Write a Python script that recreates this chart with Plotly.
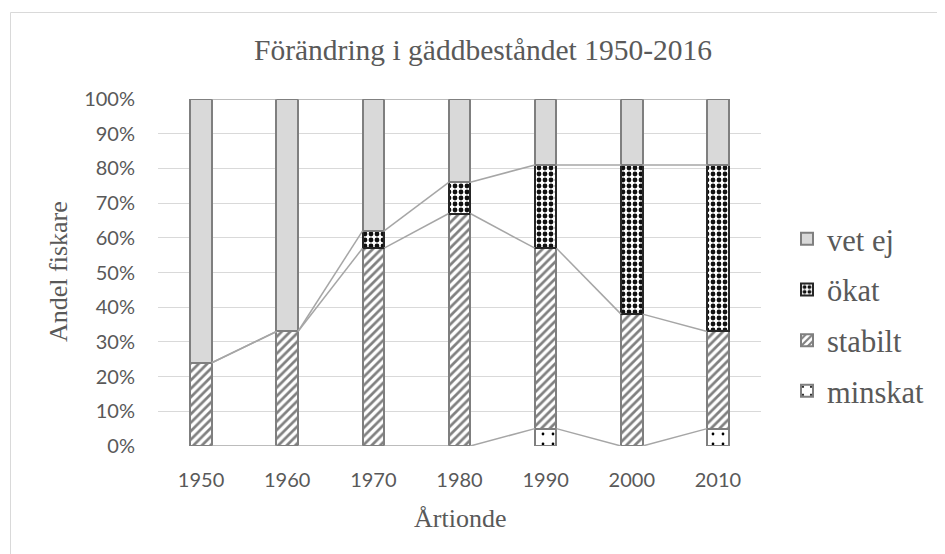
import plotly.graph_objects as go

# ---- data ----
decades = ["1950", "1960", "1970", "1980", "1990", "2000", "2010"]
minskat = [0.00, 0.00, 0.00, 0.00, 0.05, 0.00, 0.05]
stabilt = [0.24, 0.33, 0.57, 0.67, 0.52, 0.38, 0.28]
okat    = [0.00, 0.00, 0.05, 0.09, 0.24, 0.43, 0.48]
vet_ej  = [0.76, 0.67, 0.38, 0.24, 0.19, 0.19, 0.19]
series_names = ["minskat", "stabilt", "ökat", "vet ej"]
y_ticks = [0.0, 0.1, 0.2, 0.3, 0.4, 0.5, 0.6, 0.7, 0.8, 0.9, 1.0]

# ---- layout constants (figure pixels; page has an 8px body margin) ----
W, H = 937, 546
PL, PR, PT, PB = 150, 753, 91, 438
pw, ph = PR - PL, PB - PT
def px_x(x): return (x - PL) / pw
def px_y(y): return (PB - y) / ph

BAR_W = 0.25
xs = list(range(len(decades)))
serif = "Liberation Serif"
sans = "Lato"
txt = "#595959"

styles = {
    "minskat": dict(color="#ffffff", line=dict(color="#7f7f7f", width=2),
                    pattern=dict(shape=".", fgcolor="#000000", bgcolor="#ffffff",
                                 size=10, solidity=0.06, fillmode="replace")),
    "stabilt": dict(color="#ffffff", line=dict(color="#7f7f7f", width=2),
                    pattern=dict(shape="/", fgcolor="#808080", bgcolor="#ffffff",
                                 size=6, solidity=0.45, fillmode="replace")),
    "ökat": dict(color="#ffffff", line=dict(color="#262626", width=2),
                 pattern=dict(shape=".", fgcolor="#111111", bgcolor="#ffffff",
                              size=6, solidity=0.5, fillmode="replace")),
    "vet ej": dict(color="#d9d9d9", line=dict(color="#7f7f7f", width=2)),
}
values = {"minskat": minskat, "stabilt": stabilt, "ökat": okat, "vet ej": vet_ej}
ranks = {"vet ej": 1, "ökat": 2, "stabilt": 3, "minskat": 4}

fig = go.Figure()

# series lines (connect segment tops between neighbouring bars)
cum = [0.0] * len(decades)
lx, ly = [], []
for name in series_names:
    cum = [c + v for c, v in zip(cum, values[name])]
    for i in range(len(decades) - 1):
        lx += [xs[i] + BAR_W / 2, xs[i + 1] - BAR_W / 2, None]
        ly += [cum[i], cum[i + 1], None]
fig.add_trace(go.Scatter(x=lx, y=ly, mode="lines", showlegend=False, hoverinfo="skip",
                         line=dict(color="#a6a6a6", width=1.5)))

for name in series_names:
    fig.add_trace(go.Bar(x=xs, y=values[name], name=name, width=BAR_W,
                         marker=styles[name], legendgroup=name, legendrank=ranks[name]))

fig.update_layout(
    width=W, height=H, barmode="stack",
    paper_bgcolor="white", plot_bgcolor="white",
    font=dict(family=serif, color=txt),
    margin=dict(l=PL, r=W - PR, t=PT, b=H - PB, pad=0),
    title=dict(text="Förändring i gäddbeståndet 1950-2016", xref="container", yref="container",
               x=475 / W, xanchor="center", y=1 - 42 / H, yanchor="middle",
               font=dict(family=serif, size=29.5, color=txt)),
    legend=dict(x=px_x(779), xanchor="left", y=px_y(204.5), yanchor="top",
                traceorder="grouped", tracegroupgap=8,
                font=dict(family=serif, size=30.5, color=txt), bgcolor="rgba(0,0,0,0)"),
    xaxis=dict(range=[-0.5, len(decades) - 0.5], tickvals=xs, ticktext=decades,
               showgrid=False, zeroline=False, showline=False,
               ticks="outside", ticklen=16, tickcolor="rgba(0,0,0,0)",
               tickfont=dict(family=sans, size=20, color=txt)),
    yaxis=dict(range=[0, 1], tickvals=y_ticks, tickformat=".0%",
               showgrid=True, gridcolor="#d9d9d9", gridwidth=1, zeroline=False, showline=False,
               ticks="outside", ticklen=18, tickcolor="rgba(0,0,0,0)",
               tickfont=dict(family=sans, size=20, color=txt)),
    shapes=[dict(type="rect", xref="paper", yref="paper",
                 x0=px_x(2.5), x1=px_x(945), y0=px_y(4.5), y1=px_y(560),
                 line=dict(color="#d9d9d9", width=1), fillcolor="rgba(0,0,0,0)", layer="below")],
    annotations=[
        dict(text="Andel fiskare", xref="paper", yref="paper", x=px_x(50), y=px_y(264),
             showarrow=False, textangle=-90, xanchor="center", yanchor="middle",
             font=dict(family=serif, size=26, color=txt)),
        dict(text="Årtionde", xref="paper", yref="paper", x=px_x(451.5), y=px_y(510),
             showarrow=False, xanchor="center", yanchor="middle",
             font=dict(family=serif, size=26, color=txt)),
    ],
)

fig.write_html("out.html")
